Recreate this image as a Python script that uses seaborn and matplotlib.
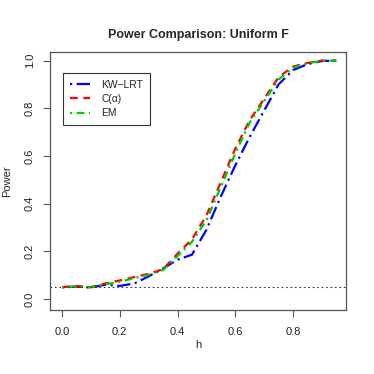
import numpy as np
import pandas as pd
import matplotlib
matplotlib.use("Agg")
import matplotlib.pyplot as plt
import seaborn as sns

h = [0.00, 0.05, 0.10, 0.15, 0.20, 0.25, 0.30, 0.35, 0.40, 0.45,
     0.50, 0.55, 0.60, 0.65, 0.70, 0.75, 0.80, 0.85, 0.90, 0.95]
kw_lrt = [0.050, 0.052, 0.048, 0.060, 0.055, 0.065, 0.095, 0.128, 0.165, 0.186,
          0.290, 0.430, 0.560, 0.680, 0.790, 0.900, 0.960, 0.985, 0.998, 1.000]
c_alpha = [0.050, 0.055, 0.050, 0.065, 0.078, 0.092, 0.106, 0.125, 0.190, 0.250,
           0.350, 0.490, 0.630, 0.750, 0.840, 0.930, 0.975, 0.990, 1.000, 1.000]
em = [0.048, 0.053, 0.049, 0.062, 0.072, 0.088, 0.102, 0.122, 0.180, 0.240,
      0.330, 0.470, 0.610, 0.740, 0.830, 0.920, 0.970, 0.990, 0.998, 1.000]
series_names = ["KW\u2212LRT", "C(\u03b1)", "EM"]
alpha_level = 0.05
x_ticks = [0.0, 0.2, 0.4, 0.6, 0.8]
y_ticks = [0.0, 0.2, 0.4, 0.6, 0.8, 1.0]

sns.set_style("white")
plt.rcParams['font.family'] = ['Liberation Sans', 'DejaVu Sans']

fig = plt.figure(figsize=(3.74, 3.74), dpi=100)
ax = fig.add_axes([50/374, 1-310/374, 296/374, 258/374])

colors = ["#0000FF", "#FF0000", "#00CD00"]
styles = [(0, (1, 2, 6, 2)), (0, (3.5, 2.5)), (0, (1, 2, 3.5, 2))]
df = pd.DataFrame({"h": h, series_names[0]: kw_lrt, series_names[1]: c_alpha, series_names[2]: em})
for name, col, ls in zip(series_names, colors, styles):
    sns.lineplot(data=df, x="h", y=name, ax=ax, color=col, linestyle=ls,
                 linewidth=1.6, label=name)

ax.axhline(alpha_level, color="#333333", linestyle=(0, (1.5, 2.5)), linewidth=0.8)

ax.set_xlim(-0.0416, 0.9836)
ax.set_ylim(-0.046, 1.036)
ax.set_xticks(x_ticks)
ax.set_xticklabels([f"{v:.1f}" for v in x_ticks])
ax.set_yticks(y_ticks)
ax.set_yticklabels([f"{v:.1f}" for v in y_ticks], rotation=90, va="center")
ax.tick_params(axis="both", direction="out", length=5, width=0.8, colors="#555555",
               labelcolor="#222222", labelsize=8, bottom=True, left=True)
ax.tick_params(axis="x", pad=7)
ax.tick_params(axis="y", pad=6)
for s in ax.spines.values():
    s.set_color("#555555")
    s.set_linewidth(0.9)

ax.set_xlabel("h", fontsize=8, color="#222222")
ax.xaxis.set_label_coords(0.5, (310-345)/258)
ax.xaxis.label.set_va("center")
ax.set_ylabel("Power", fontsize=8, color="#222222")
ax.yaxis.set_label_coords((7.5-50)/296, 0.5)
ax.yaxis.label.set_va("center")
ax.set_title("Power Comparison: Uniform F", fontsize=9, fontweight="bold",
             y=(52-35)/258 + 1, va="center", pad=0)

leg = ax.legend(loc="upper left", bbox_to_anchor=((63.3-50)/296, 1-(72.7-52)/258),
                borderaxespad=0, fancybox=False, edgecolor="#333333", framealpha=1,
                fontsize=7.4, handlelength=1.9, borderpad=0.7, labelspacing=0.4,
                handletextpad=1.1)
leg.get_frame().set_linewidth(0.8)

fig.savefig("out.png", dpi=100)
